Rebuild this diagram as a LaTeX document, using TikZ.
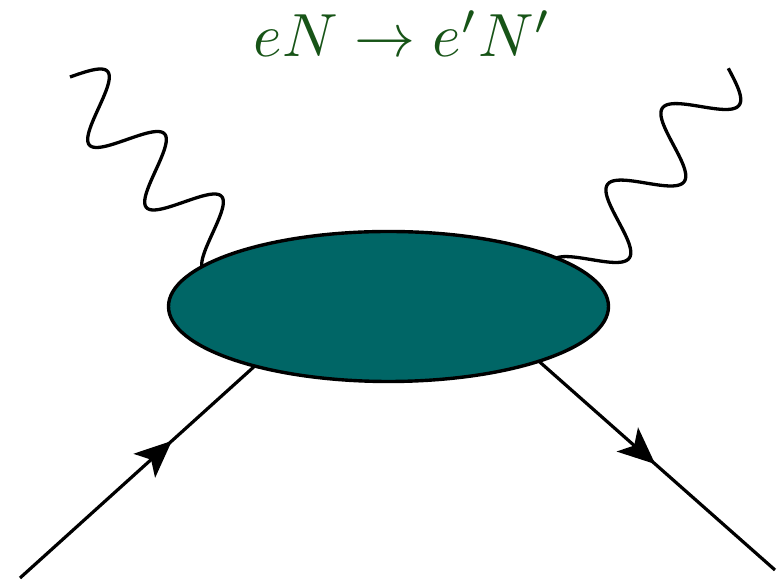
\documentclass[tikz,border=0pt]{standalone}
\usetikzlibrary{shapes.geometric,arrows.meta,decorations.markings}
\definecolor{blobteal}{RGB}{0,102,102}
\definecolor{titlegreen}{RGB}{23,84,23}
\pgfdeclarelayer{background}
\pgfsetlayers{background,main}
\tikzset{
  photon/.style={line width=3.3pt, line join=round},
  fermion/.style={line width=3.2pt, postaction={decorate},
    decoration={markings, mark=at position #1 with {\arrow{Stealth[length=37pt,width=32pt,inset=9pt]}}}},
  blobstyle/.style={ellipse, draw, line width=3.4pt, fill=blobteal,
    minimum width=440pt, minimum height=150pt, inner sep=0pt, outer sep=0pt},
  titlestyle/.style={text=titlegreen, scale=6.1, anchor=base, inner sep=0pt}
}
\begin{document}
\begin{tikzpicture}[x=1pt,y=1pt]
\useasboundingbox (0,0) rectangle (777,583);
\coordinate (gL) at (70,506);
\coordinate (gR) at (728.3,514.7);
\coordinate (eIn) at (20,5);
\coordinate (eOut) at (775,13);
\node[blobstyle] (blob) at (388.5,276.5) {};
\begin{pgfonlayer}{background}
  \draw[photon, shift={(gL)}, rotate=-47.63] plot[domain=0:229, samples=300] (\x, {31.5*sin(\x*4.2553)});
  \draw[photon, shift={(gR)}, rotate=-125.7] plot[domain=0:254, samples=300] (\x, {30.3*sin(\x*3.8217)});
  \draw[fermion=0.647] (eIn) -- (blob.204.25);
  \draw[fermion=0.4926] (blob.340.5) -- (eOut);
\end{pgfonlayer}
\node[titlestyle] (title) at (402.5,526) {$eN \to e'N'$};
\end{tikzpicture}
\end{document}
